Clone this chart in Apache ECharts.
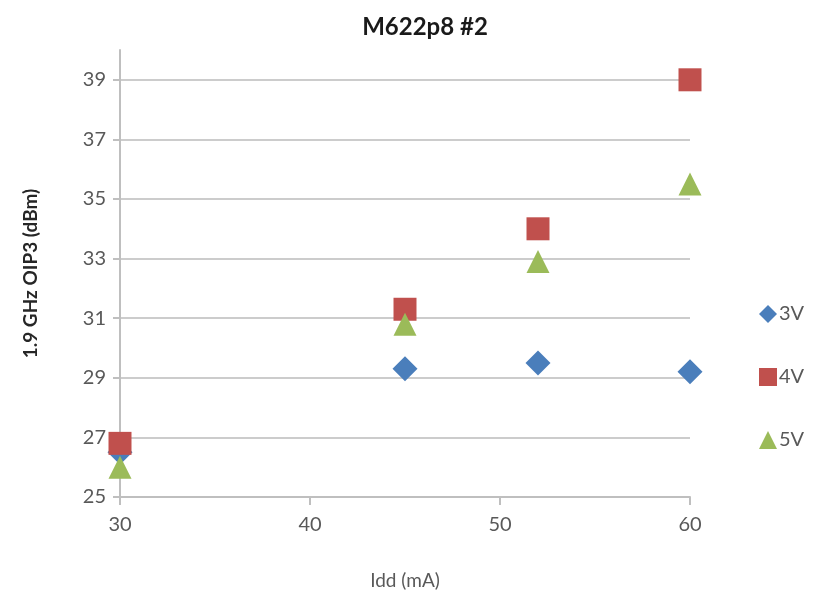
<!DOCTYPE html>
<html>
<head>
<meta charset="utf-8">
<style>
  html, body { margin: 0; padding: 0; background: #ffffff; }
  #chart { width: 816px; height: 598px; }
</style>
<script src="https://cdn.jsdelivr.net/npm/echarts@6/dist/echarts.min.js"></script>
</head>
<body>
<div id="chart"></div>
<script>
// Supply current (mA) at which each bias voltage was measured
const idd = [30, 45, 52, 60];
// OIP3 at 1.9 GHz (dBm) per supply voltage
const oip3_3V = [26.5, 29.3, 29.5, 29.2];
const oip3_4V = [26.8, 31.3, 34.0, 39.0];
const oip3_5V = [26.0, 30.8, 32.9, 35.5];
const seriesNames = ['3V', '4V', '5V'];

const FONT = 'Lato, "Open Sans", sans-serif';
const AXIS_GRAY = '#bfbfbf';
const TEXT_GRAY = '#595959';

function pairs(ys) {
  return idd.map((x, i) => [x, ys[i]]);
}

const chart = echarts.init(document.getElementById('chart'), null, { renderer: 'canvas' });

chart.setOption({
  animation: false,
  backgroundColor: '#ffffff',
  title: {
    text: 'M622p8 #2',
    left: 420,
    top: 10,
    textAlign: 'center',
    textStyle: { fontFamily: FONT, fontSize: 24, fontWeight: 'bold', color: '#1a1a1a' }
  },
  legend: {
    orient: 'vertical',
    left: 754,
    top: 299,
    itemGap: 43,
    itemWidth: 18,
    itemHeight: 18,
    data: [
      { name: '3V', icon: 'diamond' },
      { name: '4V', icon: 'rect' },
      { name: '5V', icon: 'triangle' }
    ],
    textStyle: { fontFamily: FONT, fontSize: 20, color: TEXT_GRAY, padding: [0, 0, 0, -3] }
  },
  grid: { left: 120, right: 126, top: 50, bottom: 101 },
  xAxis: {
    type: 'value',
    min: 30,
    max: 60,
    interval: 10,
    name: 'Idd (mA)',
    nameLocation: 'middle',
    nameGap: 74,
    nameTextStyle: { fontFamily: FONT, fontSize: 19, color: TEXT_GRAY },
    axisLine: { show: true, lineStyle: { color: AXIS_GRAY, width: 2 } },
    axisTick: { show: true, length: 8, lineStyle: { color: AXIS_GRAY, width: 2 } },
    axisLabel: { fontFamily: FONT, fontSize: 20, color: TEXT_GRAY, margin: 18 },
    splitLine: { show: false }
  },
  yAxis: {
    type: 'value',
    min: 25,
    max: 40,
    interval: 2,
    name: '1.9 GHz OIP3 (dBm)',
    nameLocation: 'middle',
    nameGap: 80,
    nameRotate: 90,
    nameTextStyle: { fontFamily: FONT, fontSize: 19, fontWeight: 'bold', color: '#262626' },
    axisLine: { show: true, lineStyle: { color: AXIS_GRAY, width: 2 } },
    axisTick: { show: true, length: 7, lineStyle: { color: AXIS_GRAY, width: 2 } },
    axisLabel: { fontFamily: FONT, fontSize: 20, color: TEXT_GRAY, margin: 14, showMaxLabel: false },
    splitLine: { show: true, showMaxLine: false, lineStyle: { color: '#cccccc', width: 2 } }
  },
  series: [
    {
      name: seriesNames[0],
      type: 'scatter',
      symbol: 'diamond',
      symbolSize: 25,
      itemStyle: { color: '#4a7ebb', opacity: 1 },
      data: pairs(oip3_3V),
      z: 2
    },
    {
      name: seriesNames[1],
      type: 'scatter',
      symbol: 'rect',
      symbolSize: 23,
      itemStyle: { color: '#c0504d', opacity: 1 },
      data: pairs(oip3_4V),
      z: 3
    },
    {
      name: seriesNames[2],
      type: 'scatter',
      symbol: 'triangle',
      symbolSize: 23,
      itemStyle: { color: '#9bbb59', opacity: 1 },
      data: pairs(oip3_5V),
      z: 4
    }
  ]
});
</script>
</body>
</html>
